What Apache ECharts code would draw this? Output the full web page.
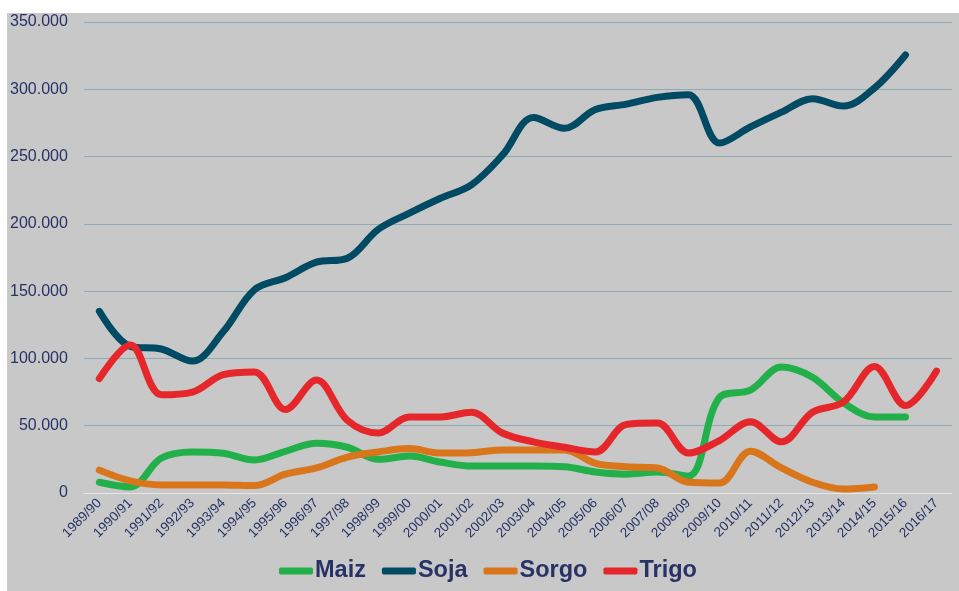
<!DOCTYPE html>
<html>
<head>
<meta charset="utf-8">
<script src="https://cdn.jsdelivr.net/npm/echarts@6/dist/echarts.min.js"></script>
<style>
html,body{margin:0;padding:0;background:#ffffff;width:959px;height:591px;overflow:hidden;}
#c{position:absolute;left:7px;top:13px;width:952px;height:578px;background:#c8c8c8;}
</style>
</head>
<body>
<div id="c"></div>
<script>
const categories = ['1989/90','1990/91','1991/92','1992/93','1993/94','1994/95','1995/96','1996/97','1997/98','1998/99','1999/00','2000/01','2001/02','2002/03','2003/04','2004/05','2005/06','2006/07','2007/08','2008/09','2009/10','2010/11','2011/12','2012/13','2013/14','2014/15','2015/16','2016/17'];
const maiz  = [8000,4500,26000,30500,29500,24500,31000,37000,34000,25000,27500,23000,20000,20000,20000,19500,15600,14000,15600,12600,71000,76500,93600,86000,67000,56500,56500,null];
const soja  = [135000,109000,107000,98000,120000,151000,160000,171500,174500,196000,208000,219000,229000,251000,279000,271000,285000,289000,294000,296000,260000,272000,283000,293000,287500,301000,325500,null];
const sorgo = [17000,9000,6000,6000,6000,5500,14000,18600,26700,30500,33000,29700,30000,32000,32000,32000,22000,19500,18600,8000,7400,31000,18600,8000,3000,4500,null,null];
const trigo = [85000,110000,73000,75000,88000,90000,62000,84000,54000,44600,56500,56500,60000,44600,38000,34000,30500,51000,52000,29700,39000,53000,38000,60000,67600,94000,65000,90600];
const yTicks = [0,50000,100000,150000,200000,250000,300000,350000];

const navy = '#283266';
function fmt(v){ return String(v).replace(/\B(?=(\d{3})+(?!\d))/g,'.'); }
function mk(name, data, color){
  return {name:name, type:'line', data:data, smooth:0.35, smoothConstraint:false, showSymbol:false, symbol:'none',
    connectNulls:false, lineStyle:{width:7, color:color, cap:'round', join:'round'}, itemStyle:{color:color}};
}
const chart = echarts.init(document.getElementById('c'), null, {renderer:'canvas'});
chart.setOption({
  backgroundColor:'transparent',
  animation:false,
  grid:{left:73, right:7, top:9, bottom:98, containLabel:false},
  legend:{
    bottom:3, left:267, itemWidth:34, itemHeight:7, itemGap:16,
    icon:'roundRect',
    textStyle:{color:navy, fontSize:23.5, fontWeight:'bold', fontFamily:'Liberation Sans, Arial, sans-serif', padding:[0,0,0,-3]},
    data:['Maiz','Soja','Sorgo','Trigo']
  },
  xAxis:{
    type:'category', data:categories, boundaryGap:true,
    axisLine:{show:true, lineStyle:{color:'#e6e6e6', width:1}},
    axisTick:{show:false},
    axisLabel:{rotate:45, interval:0, color:navy, fontSize:13.5, fontFamily:'Liberation Sans, Arial, sans-serif', margin:8}
  },
  yAxis:{
    type:'value', min:yTicks[0], max:yTicks[yTicks.length-1], interval:50000,
    axisLine:{show:false}, axisTick:{show:false},
    splitLine:{lineStyle:{color:'#8eaab9', width:1}},
    axisLabel:{color:navy, fontSize:16, fontFamily:'Liberation Sans, Arial, sans-serif', margin:16, formatter:fmt}
  },
  series:[mk('Maiz',maiz,'#22b04b'), mk('Soja',soja,'#014a63'), mk('Sorgo',sorgo,'#d9761c'), mk('Trigo',trigo,'#e5262a')]
});
</script>
</body>
</html>
